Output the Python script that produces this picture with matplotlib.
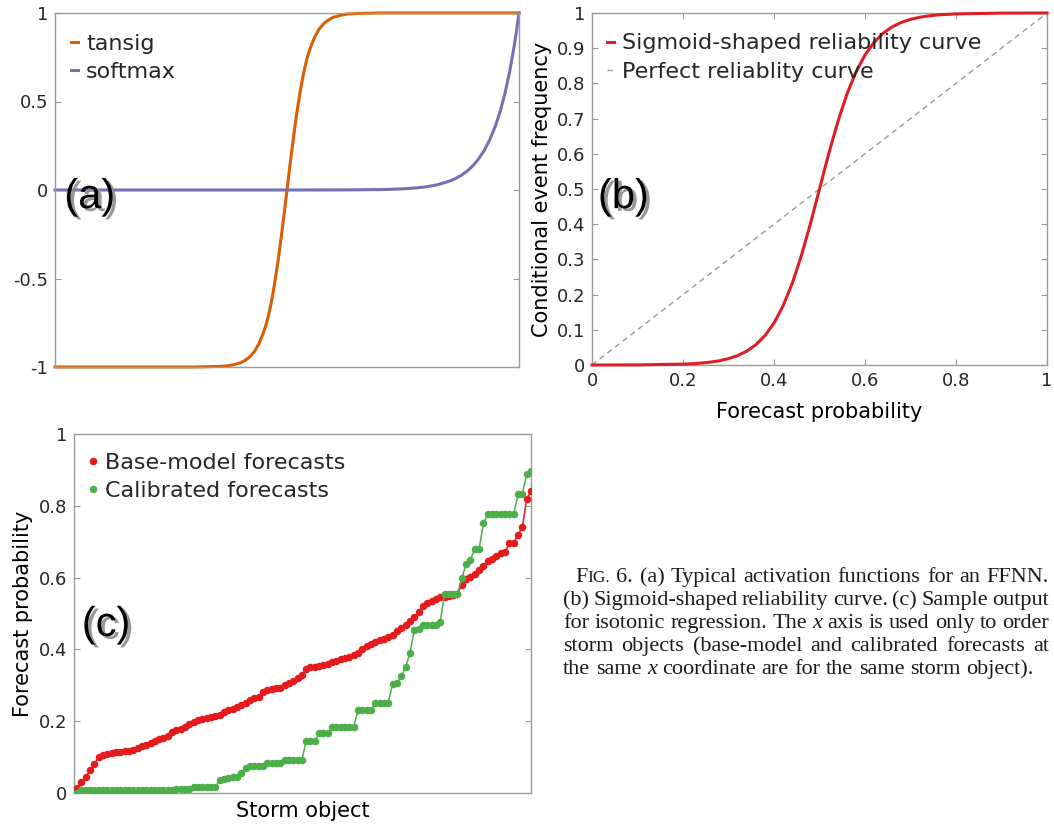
"""
Fig. 6: activation functions, sigmoid reliability curve and isotonic regression sample.
"""

import matplotlib
matplotlib.use("Agg")
import matplotlib.pyplot as plt
import matplotlib.patheffects as pe
from matplotlib.lines import Line2D
from matplotlib.ticker import FuncFormatter, FixedLocator
from matplotlib.transforms import IdentityTransform

# ---------------- datos panel (a): funciones de activacion ----------------
tansig_x = [-1.0, -0.40, -0.30, -0.26, -0.23, -0.20, -0.18, -0.16, -0.14, -0.12,
            -0.10, -0.09, -0.08, -0.07, -0.06, -0.05, -0.04, -0.03, -0.02, -0.01,
            0.0, 0.01, 0.02, 0.03, 0.04, 0.05, 0.06, 0.07, 0.08, 0.09,
            0.10, 0.12, 0.14, 0.16, 0.18, 0.20, 0.23, 0.26, 0.30, 0.40, 1.0]
tansig_y = [-1.0, -1.0, -0.997, -0.994, -0.987, -0.976, -0.962, -0.942, -0.912, -0.866,
            -0.800, -0.760, -0.710, -0.650, -0.580, -0.500, -0.414, -0.318, -0.216, -0.110,
            0.0, 0.110, 0.216, 0.318, 0.414, 0.500, 0.580, 0.650, 0.710, 0.760,
            0.800, 0.866, 0.912, 0.942, 0.962, 0.976, 0.987, 0.994, 0.997, 1.0, 1.0]

softmax_x = [-1.0, 0.0, 0.2, 0.3, 0.4, 0.45, 0.5, 0.55, 0.6, 0.65, 0.7, 0.725, 0.75,
             0.775, 0.8, 0.825, 0.85, 0.875, 0.9, 0.92, 0.94, 0.96, 0.98, 0.99, 1.0]
softmax_y = [0.0, 0.0, 0.0003, 0.001, 0.0025, 0.004, 0.0067, 0.011, 0.018, 0.030,
             0.050, 0.064, 0.082, 0.105, 0.135, 0.174, 0.223, 0.287, 0.368, 0.449,
             0.549, 0.670, 0.819, 0.905, 1.0]

# ---------------- datos panel (b): curva de fiabilidad ----------------
rel_prob = [0.0, 0.10, 0.20, 0.22, 0.24, 0.26, 0.28, 0.30, 0.32, 0.34, 0.36, 0.38,
            0.40, 0.42, 0.44, 0.46, 0.48, 0.50, 0.52, 0.54, 0.56, 0.58, 0.60, 0.62,
            0.64, 0.66, 0.68, 0.70, 0.72, 0.74, 0.76, 0.80, 0.90, 1.0]
rel_freq = [0.0, 0.0003, 0.0025, 0.0037, 0.0055, 0.0082, 0.0121, 0.018, 0.0266, 0.0392,
            0.0573, 0.0832, 0.1192, 0.168, 0.2315, 0.310, 0.401, 0.500, 0.599, 0.690,
            0.7685, 0.832, 0.8808, 0.9168, 0.9427, 0.9608, 0.9734, 0.982, 0.9879,
            0.9918, 0.9945, 0.9975, 0.9997, 1.0]
perfect_prob = [0.0, 1.0]

# ---------------- datos panel (c): regresion isotonica ----------------
storm_base = [
    0.015, 0.030, 0.045, 0.063, 0.080, 0.100, 0.105, 0.108, 0.112, 0.114,
    0.115, 0.116, 0.118, 0.120, 0.124, 0.130, 0.134, 0.140, 0.146, 0.150,
    0.152, 0.160, 0.170, 0.175, 0.178, 0.185, 0.192, 0.198, 0.202, 0.206,
    0.210, 0.212, 0.215, 0.217, 0.225, 0.231, 0.235, 0.240, 0.245, 0.250,
    0.260, 0.265, 0.268, 0.280, 0.287, 0.290, 0.292, 0.293, 0.300, 0.306,
    0.312, 0.320, 0.330, 0.345, 0.350, 0.352, 0.355, 0.357, 0.360, 0.364,
    0.368, 0.372, 0.376, 0.380, 0.384, 0.390, 0.400, 0.410, 0.415, 0.420,
    0.425, 0.430, 0.435, 0.440, 0.450, 0.460, 0.468, 0.480, 0.490, 0.505,
    0.520, 0.528, 0.535, 0.540, 0.545, 0.547, 0.550, 0.552, 0.555, 0.580,
    0.595, 0.603, 0.610, 0.620, 0.633, 0.645, 0.652, 0.660, 0.668, 0.672,
    0.696, 0.697, 0.720, 0.740, 0.820, 0.840,
]
storm_calib = [
    0.000, 0.007, 0.007, 0.007, 0.007, 0.007, 0.007, 0.007, 0.007, 0.007,
    0.007, 0.007, 0.007, 0.007, 0.007, 0.007, 0.007, 0.007, 0.007, 0.007,
    0.007, 0.007, 0.007, 0.012, 0.012, 0.012, 0.012, 0.018, 0.018, 0.018,
    0.018, 0.018, 0.018, 0.035, 0.040, 0.042, 0.045, 0.045, 0.055, 0.070,
    0.075, 0.075, 0.076, 0.076, 0.083, 0.083, 0.083, 0.083, 0.092, 0.092,
    0.092, 0.092, 0.092, 0.145, 0.145, 0.145, 0.166, 0.166, 0.166, 0.185,
    0.185, 0.185, 0.185, 0.185, 0.185, 0.231, 0.231, 0.231, 0.231, 0.252,
    0.252, 0.252, 0.252, 0.305, 0.306, 0.325, 0.350, 0.390, 0.455, 0.457,
    0.467, 0.467, 0.467, 0.467, 0.477, 0.554, 0.554, 0.554, 0.554, 0.598,
    0.638, 0.650, 0.680, 0.680, 0.752, 0.777, 0.777, 0.777, 0.777, 0.777,
    0.777, 0.777, 0.832, 0.833, 0.889, 0.898,
]
storm_idx = list(range(1, len(storm_base) + 1))

caption_lines = [
    "FIG. 6. (a) Typical activation functions for an FFNN.",
    "(b) Sigmoid-shaped reliability curve. (c) Sample output",
    "for isotonic regression. The _x_ axis is used only to order",
    "storm objects (base-model and calibrated forecasts at",
    "the same _x_ coordinate are for the same storm object).",
]

COLORS = {
    "tansig": "#D95F02",
    "softmax": "#7570B3",
    "sigmoid": "#DC1F26",
    "perfect": "#9A9A9A",
    "base": "#E41A1C",
    "calib": "#4DAF4A",
    "spine": "#9A9A9A",
    "text": "#262626",
}

W, H = 1054, 826
TICK_FS = 13
LABEL_FS = 15
LEGEND_FS = 16

plt.rcParams.update({
    "font.family": "DejaVu Sans",
    "axes.unicode_minus": False,
    "text.color": COLORS["text"],
    "xtick.color": COLORS["spine"],
    "ytick.color": COLORS["spine"],
    "xtick.labelcolor": COLORS["text"],
    "ytick.labelcolor": COLORS["text"],
    "axes.edgecolor": COLORS["spine"],
})

fmt = FuncFormatter(lambda v, p: f"{v:g}")
LEG_KW = dict(loc="upper left", frameon=False, fontsize=LEGEND_FS, handlelength=0.33,
              handletextpad=0.35, labelspacing=0.38, borderpad=0, borderaxespad=0)


def _axes(left, top, right, bottom):
    """Crea unos ejes a partir de su caja en pixeles."""
    return fig.add_axes([left / W, 1 - bottom / H, (right - left) / W, (bottom - top) / H])


def _style(ax, yticks, xticks=None):
    for s in ax.spines.values():
        s.set_linewidth(1.0)
    ax.yaxis.set_major_locator(FixedLocator(yticks))
    ax.yaxis.set_major_formatter(fmt)
    if xticks is None:
        ax.set_xticks([])
    else:
        ax.xaxis.set_major_locator(FixedLocator(xticks))
        ax.xaxis.set_major_formatter(fmt)
    ax.tick_params(direction="in", length=4, width=0.8, labelsize=TICK_FS,
                   right=True, top=xticks is not None, pad=5)


def _panel_letter(ax, x, y, letter):
    ax.text(x, y, f"({letter})", transform=ax.transAxes, ha="left", va="center",
            fontsize=30, family="Liberation Sans", color="black", zorder=5,
            path_effects=[pe.withSimplePatchShadow(offset=(2.5, -2.0),
                                                   shadow_rgbFace="#8c8c8c", alpha=0.9)])


fig = plt.figure(figsize=(W / 100, H / 100), dpi=100)

# ---- (a) ----
ax1 = _axes(55, 13, 519, 367)
ax1.plot(tansig_x, tansig_y, color=COLORS["tansig"], lw=2.2, label="tansig", clip_on=False)
ax1.plot(softmax_x, softmax_y, color=COLORS["softmax"], lw=2.2, label="softmax", clip_on=False)
ax1.set_xlim(-1, 1)
ax1.set_ylim(-1, 1)
_style(ax1, [-1, -0.5, 0, 0.5, 1])
ax1.legend(bbox_to_anchor=(0.034, 0.942), **LEG_KW)
_panel_letter(ax1, 0.02, 0.48, "a")

# ---- (b) ----
ax2 = _axes(592, 13, 1047, 365)
ax2.plot(rel_prob, rel_freq, color=COLORS["sigmoid"], lw=2.2,
         label="Sigmoid-shaped reliability curve", clip_on=False, zorder=3)
ax2.plot(perfect_prob, perfect_prob, color=COLORS["perfect"], lw=1.0, ls=(0, (4, 3)),
         label="Perfect reliablity curve")
ax2.set_xlim(0, 1)
ax2.set_ylim(0, 1)
_style(ax2, [i / 10 for i in range(11)], [0, 0.2, 0.4, 0.6, 0.8, 1])
ax2.set_xlabel("Forecast probability", fontsize=LABEL_FS, labelpad=9)
ax2.set_ylabel("Conditional event frequency", fontsize=LABEL_FS, labelpad=3)
ax2.legend(bbox_to_anchor=(0.032, 0.942), **LEG_KW)
_panel_letter(ax2, 0.013, 0.477, "b")

# ---- (c) ----
ax3 = _axes(74, 434, 531, 793)
ax3.plot(storm_idx, storm_base, color=COLORS["base"], lw=1.1, marker="o", ms=4.4,
         mec=COLORS["base"], zorder=3)
ax3.plot(storm_idx, storm_calib, color=COLORS["calib"], lw=1.1, marker="o", ms=4.4,
         mec=COLORS["calib"], zorder=3)
ax3.set_xlim(0.3, len(storm_idx))
ax3.set_ylim(0, 1)
_style(ax3, [0, 0.2, 0.4, 0.6, 0.8, 1])
ax3.set_xlabel("Storm object", fontsize=LABEL_FS, labelpad=6)
ax3.set_ylabel("Forecast probability", fontsize=LABEL_FS, labelpad=4)
handles = [Line2D([], [], ls="none", marker="o", ms=4.4, color=COLORS["base"]),
           Line2D([], [], ls="none", marker="o", ms=4.4, color=COLORS["calib"])]
ax3.legend(handles, ["Base-model forecasts", "Calibrated forecasts"],
           bbox_to_anchor=(0.034, 0.948), **LEG_KW)
_panel_letter(ax3, 0.017, 0.468, "c")

# ---- leyenda de la figura (texto justificado) ----
CAP_FS = 16
CAP_SC = 12.5
CAP_LEFT, CAP_RIGHT, CAP_INDENT = 563, 1049, 12
CAP_BASE0, CAP_STEP = 582, 23.0

fig.canvas.draw()
renderer = fig.canvas.get_renderer()


def _runs(word):
    if word == "FIG.":
        return [("F", CAP_FS, "normal"), ("IG.", CAP_SC, "normal")]
    if word.startswith("_") and word.endswith("_"):
        return [(word.strip("_"), CAP_FS, "italic")]
    return [(word, CAP_FS, "normal")]


def _width(s, size, style):
    t = fig.text(0, 0, s, fontsize=size, style=style, family="Liberation Serif",
                 transform=IdentityTransform())
    w = t.get_window_extent(renderer).width
    t.remove()
    return w


space_w = _width("a a", CAP_FS, "normal") - _width("aa", CAP_FS, "normal")
for i, line in enumerate(caption_lines):
    words = [_runs(w) for w in line.split(" ")]
    widths = [sum(_width(*r) for r in w) for w in words]
    left = CAP_LEFT + (CAP_INDENT if i == 0 else 0)
    last = i == len(caption_lines) - 1
    gap = space_w if last else (CAP_RIGHT - left - sum(widths)) / (len(words) - 1)
    x = left
    y = H - (CAP_BASE0 + i * CAP_STEP)
    for w, ww in zip(words, widths):
        xr = x
        for s, size, style in w:
            fig.text(xr, y, s, fontsize=size, style=style, family="Liberation Serif",
                     color="#1a1a1a", va="baseline", transform=IdentityTransform())
            xr += _width(s, size, style)
        x += ww + gap

fig.savefig("out.png", dpi=100)
